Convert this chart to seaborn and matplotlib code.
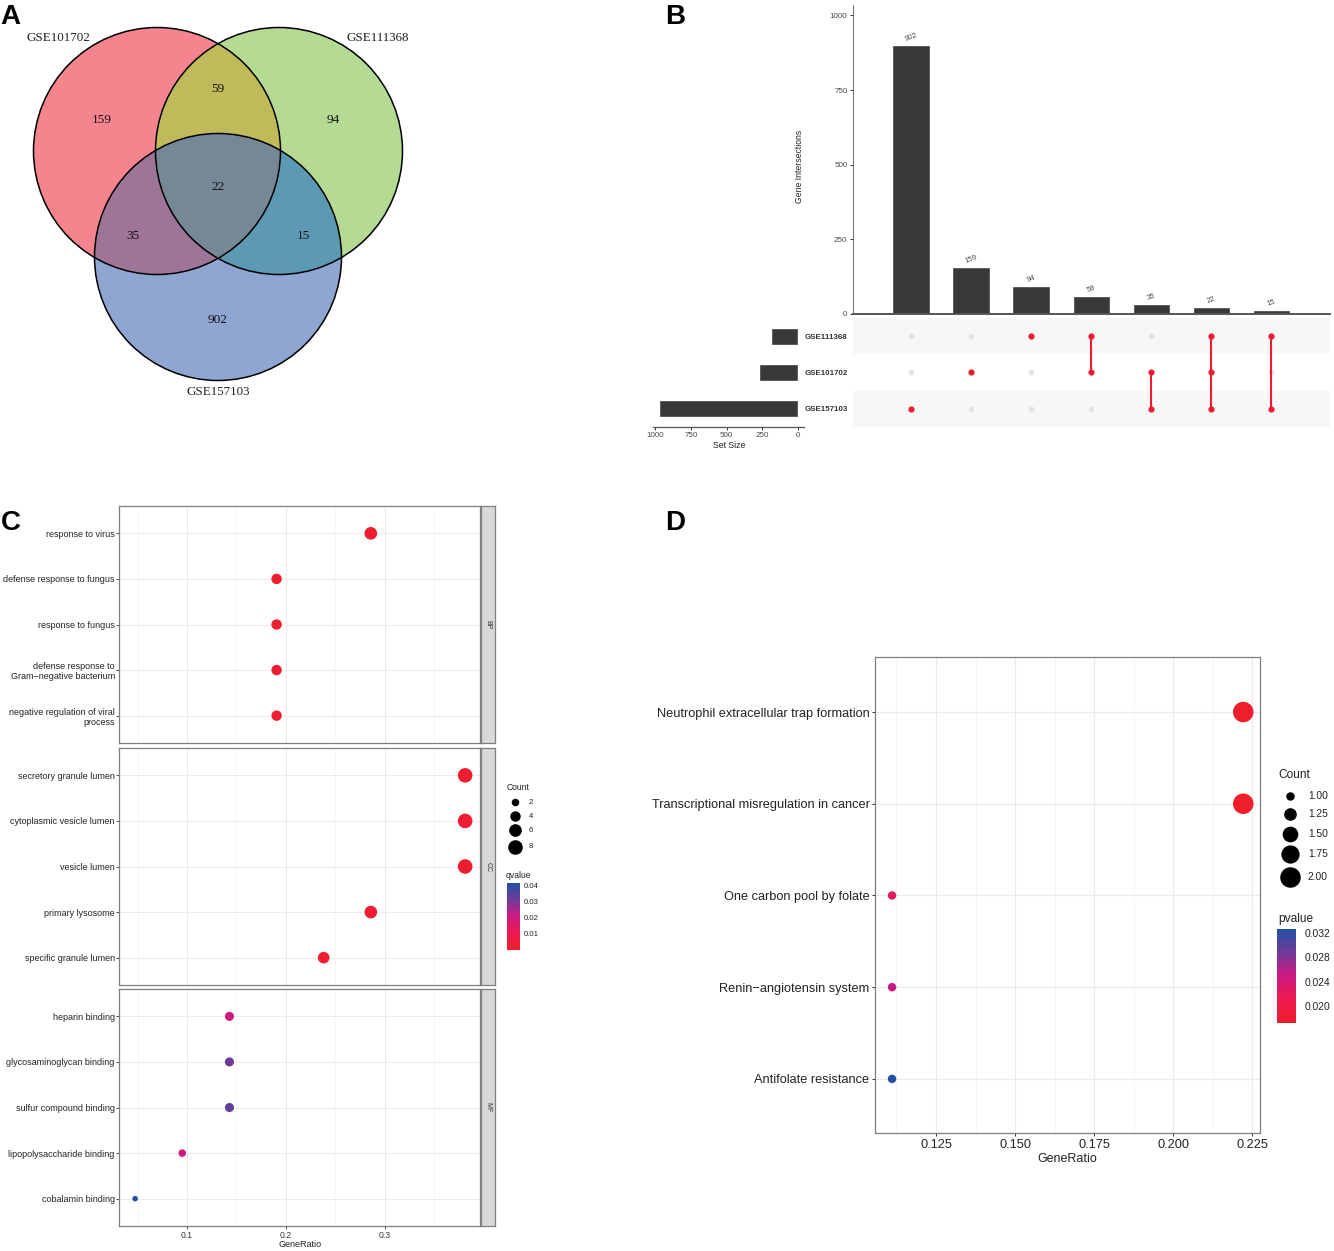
# Four panel figure: venn, upset plot, GO dot plot, KEGG dot plot
import numpy as np
import pandas as pd
import matplotlib
matplotlib.use("Agg")
import matplotlib.pyplot as plt
from matplotlib.cm import ScalarMappable
from matplotlib.colors import LinearSegmentedColormap, Normalize, to_rgb
from matplotlib.patches import Circle
from matplotlib.ticker import FormatStrFormatter
import seaborn as sns

# ---------------- data ----------------
venn_sets = ["GSE101702", "GSE111368", "GSE157103"]
venn_counts = ["159", "94", "59", "902", "35", "15", "22"]

upset_values = [902, 159, 94, 59, 35, 22, 15]
upset_sets = ["GSE111368", "GSE101702", "GSE157103"]
set_sizes = [190, 275, 974]
# which rows (index into upset_sets) each bar belongs to
upset_members = [[2], [1], [0], [0, 1], [1, 2], [0, 1, 2], [0, 2]]

go_bp_terms = ["response to virus", "defense response to fungus", "response to fungus",
               "defense response to\nGram\u2212negative bacterium",
               "negative regulation of viral\nprocess"]
go_bp_ratio = [0.2857, 0.1905, 0.1905, 0.1905, 0.1905]
go_bp_count = [6, 4, 4, 4, 4]
go_bp_q = [0.001, 0.001, 0.001, 0.001, 0.001]

go_cc_terms = ["secretory granule lumen", "cytoplasmic vesicle lumen", "vesicle lumen",
               "primary lysosome", "specific granule lumen"]
go_cc_ratio = [0.3810, 0.3810, 0.3810, 0.2857, 0.2381]
go_cc_count = [8, 8, 8, 6, 5]
go_cc_q = [0.001, 0.001, 0.001, 0.001, 0.001]

go_mf_terms = ["heparin binding", "glycosaminoglycan binding", "sulfur compound binding",
               "lipopolysaccharide binding", "cobalamin binding"]
go_mf_ratio = [0.1429, 0.1429, 0.1429, 0.0952, 0.0476]
go_mf_count = [3, 3, 3, 2, 1]
go_mf_q = [0.0193, 0.0307, 0.0328, 0.0193, 0.041]

kegg_terms = ["Neutrophil extracellular trap formation", "Transcriptional misregulation in cancer",
              "One carbon pool by folate", "Renin\u2212angiotensin system", "Antifolate resistance"]
kegg_ratio = [0.2222, 0.2222, 0.1111, 0.1111, 0.1111]
kegg_count = [2, 2, 1, 1, 1]
kegg_p = [0.0172, 0.0172, 0.0221, 0.0252, 0.0326]

go_count_legend = [2, 4, 6, 8]
kegg_count_legend = [1.00, 1.25, 1.50, 1.75, 2.00]

# ---------------- setup ----------------
W, H = 1334, 1251
sns.set_theme(style="white")
plt.rcParams["font.family"] = ["Liberation Sans", "DejaVu Sans"]

fig = plt.figure(figsize=(W / 100, H / 100), dpi=100, facecolor="white")

low_blue = LinearSegmentedColormap.from_list(
    "red_blue", ["#EE1E2A", "#EC1A50", "#CF1A82", "#703A98", "#2450A4"])
DARK = "#383838"
RED = "#ED1C2E"
BORDER = "#7F7F7F"


def px_axes(x0, y0, x1, y1):
    # axes from pixel corners, y counted from the top of the image
    return fig.add_axes([x0 / W, 1 - y1 / H, (x1 - x0) / W, (y1 - y0) / H])


# overlay in image pixels for the venn and the free text
overlay = fig.add_axes([0, 0, 1, 1], zorder=10)
overlay.patch.set_alpha(0)
overlay.axis("off")

# ---------------- panel A ----------------
centers = [(157, 151), (279, 151), (218, 257)]
radius = 123.5
region_colors = {1: "#F4868F", 2: "#B5DA94", 4: "#8FA6D3", 3: "#C1BB5C",
                 5: "#9F7499", 6: "#5B9AB3", 7: "#778796"}
yy, xx = np.mgrid[0:400:1600j, 0:420:1680j]
code = np.zeros(xx.shape, dtype=int)
for bit, (cx, cy) in enumerate(centers):
    code += ((xx - cx) ** 2 + (yy - cy) ** 2 <= radius ** 2).astype(int) << bit
rgba = np.zeros(xx.shape + (4,))
for key, col in region_colors.items():
    rgba[code == key] = to_rgb(col) + (1,)
overlay.imshow(rgba, extent=(0, 420, 400, 0), aspect="auto", interpolation="antialiased")
for c in centers:
    overlay.add_patch(Circle(c, radius, fill=False, ec="black", lw=1.1))

venn_label_xy = [(58, 38), (378, 38), (218, 392)]
for name, (x, y) in zip(venn_sets, venn_label_xy):
    overlay.text(x, y, name, family="Liberation Serif", fontsize=9.4,
                 color="#222222", ha="center", va="center")
venn_count_xy = [(102, 120), (333, 120), (218, 89), (218, 320), (133, 236), (303, 236), (218, 187)]
for val, (x, y) in zip(venn_counts, venn_count_xy):
    overlay.text(x, y, val, family="Liberation Serif", fontsize=9.6,
                 color="#111111", ha="center", va="center")

# ---------------- panel B ----------------
ax_bar = px_axes(853, 5, 1330, 314)
sns.barplot(x=list(range(7)), y=upset_values, color=DARK, width=0.62, saturation=1, ax=ax_bar)
ax_bar.set_xlim(-0.967, 6.98)
ax_bar.set_ylim(0, 1035)
ax_bar.set_xticks([])
ax_bar.set_yticks([0, 250, 500, 750, 1000])
ax_bar.tick_params(axis="y", left=True, length=2.5, width=0.7, color="#333333",
                   labelsize=5.8, labelcolor="#4D4D4D", pad=1.5)
ax_bar.set_ylabel("")
ax_bar.bar_label(ax_bar.containers[0], rotation=20, fontsize=5.6, color="#4D4D4D", padding=1.5)
sns.despine(ax=ax_bar)
ax_bar.spines["left"].set_color("#555555")
ax_bar.spines["left"].set_linewidth(0.6)
ax_bar.spines["bottom"].set_color("#555555")
ax_bar.spines["bottom"].set_linewidth(1.4)
overlay.text(800, 166, "Gene Intersections", rotation=90, fontsize=6.2,
             color="#222222", ha="center", va="center")

# dot matrix under the bars
ax_mat = px_axes(853, 318, 1330, 427)
ax_mat.axhspan(-0.5, 0.5, color="#F7F7F7", lw=0)
ax_mat.axhspan(1.5, 2.5, color="#F7F7F7", lw=0)
dot_x, dot_y, dot_on = [], [], []
for i, members in enumerate(upset_members):
    for r in range(len(upset_sets)):
        dot_x.append(i)
        dot_y.append(r)
        dot_on.append(r in members)
dots = pd.DataFrame({"x": dot_x, "y": dot_y, "on": dot_on})
sns.scatterplot(data=dots[~dots["on"]], x="x", y="y", color="#E3E3E3", s=16, linewidth=0, ax=ax_mat, zorder=2)
sns.scatterplot(data=dots[dots["on"]], x="x", y="y", color=RED, s=20, linewidth=0, ax=ax_mat, zorder=4)
for i, members in enumerate(upset_members):
    if len(members) > 1:
        ax_mat.plot([i, i], [min(members), max(members)], color=RED, lw=1.5, zorder=3)
ax_mat.set_xlim(-0.967, 6.98)
ax_mat.set_ylim(2.5, -0.5)
ax_mat.set_xticks([])
ax_mat.set_xlabel("")
ax_mat.set_ylabel("")
ax_mat.set_yticks(range(3))
ax_mat.set_yticklabels(upset_sets, fontsize=5.7, fontweight="bold", color="#333333")
ax_mat.tick_params(axis="y", left=False, length=0, pad=4)
sns.despine(ax=ax_mat, left=True, bottom=True)

# set size bars
ax_set = px_axes(653, 318, 804, 427)
ax_set.patch.set_alpha(0)
sns.barplot(x=set_sizes, y=upset_sets, color=DARK, width=0.46, saturation=1, orient="h", ax=ax_set)
ax_set.set_xlim(1016, -42)
ax_set.set_ylim(2.5, -0.5)
ax_set.set_yticks([])
ax_set.set_ylabel("")
ax_set.set_xticks([1000, 750, 500, 250, 0])
ax_set.tick_params(axis="x", bottom=True, length=2.5, width=0.7, color="#333333",
                   labelsize=5.8, labelcolor="#4D4D4D", pad=1)
sns.despine(ax=ax_set, left=True)
ax_set.spines["bottom"].set_color("#555555")
ax_set.spines["bottom"].set_linewidth(0.9)
overlay.text(729, 445.5, "Set Size", fontsize=6.3, color="#222222", ha="center", va="center")

# ---------------- panel C ----------------
go_norm = Normalize(-0.0006, 0.0417)
go_size_range = (16, 110)
go_size_norm = (1, 8)
go_panels = [("BP", go_bp_terms, go_bp_ratio, go_bp_count, go_bp_q, 506, 743),
             ("CC", go_cc_terms, go_cc_ratio, go_cc_count, go_cc_q, 748, 985),
             ("MF", go_mf_terms, go_mf_ratio, go_mf_count, go_mf_q, 989, 1226)]


def style_dot_axes(ax, grid_lw):
    ax.set_axisbelow(True)
    ax.grid(True, which="major", color="#EBEBEB", lw=grid_lw)
    ax.grid(True, which="minor", axis="x", color="#F2F2F2", lw=grid_lw * 0.7)
    for side in ax.spines.values():
        side.set_visible(True)
        side.set_color(BORDER)
        side.set_linewidth(0.9)
    ax.set_xlabel("")
    ax.set_ylabel("")


for name, terms, ratio, count, qval, top, bottom in go_panels:
    ax = px_axes(119, top, 480, bottom)
    df = pd.DataFrame({"term": terms, "ratio": ratio, "count": count, "q": qval})
    sns.scatterplot(data=df, x="ratio", y="term", hue="q", size="count", palette=low_blue,
                    hue_norm=go_norm, sizes=go_size_range, size_norm=go_size_norm,
                    linewidth=0, legend=False, ax=ax, zorder=3)
    ax.set_xlim(0.0313, 0.396)
    ax.set_ylim(4.6, -0.6)
    ax.set_xticks([0.1, 0.2, 0.3])
    ax.set_xticks([0.05, 0.15, 0.25, 0.35], minor=True)
    style_dot_axes(ax, 0.7)
    ax.tick_params(axis="y", left=True, length=2, width=0.6, color="#333333", labelsize=6.5,
                   labelcolor="#222222", pad=1)
    ax.tick_params(axis="x", which="minor", bottom=False)
    for lab in ax.get_yticklabels():
        lab.set_linespacing(1.15)
    if name == "MF":
        ax.set_xticklabels(["0.1", "0.2", "0.3"])
        ax.tick_params(axis="x", bottom=True, length=2, width=0.6, color="#333333",
                       labelsize=6.2, labelcolor="#333333", pad=1.5)
    else:
        ax.tick_params(axis="x", labelbottom=False, bottom=False)

    strip = px_axes(481, top, 495, bottom)
    strip.set_facecolor("#D9D9D9")
    strip.set_xticks([])
    strip.set_yticks([])
    for side in strip.spines.values():
        side.set_visible(True)
        side.set_color(BORDER)
        side.set_linewidth(0.9)
    strip.text(0.5, 0.5, name, rotation=-90, fontsize=5, color="#333333",
               ha="center", va="center", transform=strip.transAxes)

overlay.text(300, 1244.5, "GeneRatio", fontsize=6.5, color="#222222", ha="center", va="center")


def legend_size(c, rng, norm):
    return rng[0] + (c - norm[0]) / (norm[1] - norm[0]) * (rng[1] - rng[0])


def dot_legend(title_xy, title, counts, labels, ys, dot_x, text_x, rng, norm, fs_title, fs_text):
    overlay.text(*title_xy, title, fontsize=fs_title, color="#222222", ha="left", va="center")
    for c, lab, y in zip(counts, labels, ys):
        overlay.scatter([dot_x], [y], s=legend_size(c, rng, norm), color="black", linewidth=0)
        overlay.text(text_x, y, lab, fontsize=fs_text, color="#222222", ha="left", va="center")


def color_bar(box, norm, ticks, fmt, fs, pad, tick_len):
    cax = px_axes(*box)
    cb = fig.colorbar(ScalarMappable(norm=norm, cmap=low_blue), cax=cax)
    cb.outline.set_visible(False)
    cb.set_ticks(ticks)
    cax.yaxis.set_major_formatter(FormatStrFormatter(fmt))
    cax.tick_params(axis="y", direction="in", left=True, right=True, labelleft=False, labelright=True,
                    length=tick_len, width=0.6, color="#F4F4F4", labelsize=fs, labelcolor="#222222", pad=pad)


dot_legend((507, 788), "Count", go_count_legend, ["2", "4", "6", "8"], [802, 816, 830, 847],
           514.5, 529, go_size_range, go_size_norm, 6.2, 5.6)
overlay.text(506, 876, "qvalue", fontsize=6.2, color="#222222", ha="left", va="center")
color_bar((507, 883, 520, 950), go_norm, [0.01, 0.02, 0.03, 0.04], "%.2f", 5.6, 3, 2)

# ---------------- panel D ----------------
kegg_norm = Normalize(0.0172, 0.03266)
kegg_size_range = (37, 218)
kegg_size_norm = (1, 2)
ax_d = px_axes(875, 657, 1260, 1133)
df_kegg = pd.DataFrame({"term": kegg_terms, "ratio": kegg_ratio, "count": kegg_count, "p": kegg_p})
sns.scatterplot(data=df_kegg, x="ratio", y="term", hue="p", size="count", palette=low_blue,
                hue_norm=kegg_norm, sizes=kegg_size_range, size_norm=kegg_size_norm,
                linewidth=0, legend=False, ax=ax_d, zorder=3)
ax_d.set_xlim(0.1057, 0.2275)
ax_d.set_ylim(4.59, -0.6)
ax_d.set_xticks([0.125, 0.150, 0.175, 0.200, 0.225])
ax_d.set_xticklabels(["0.125", "0.150", "0.175", "0.200", "0.225"])
ax_d.set_xticks([0.1125, 0.1375, 0.1625, 0.1875, 0.2125], minor=True)
style_dot_axes(ax_d, 0.8)
ax_d.tick_params(axis="both", which="major", bottom=True, left=True, length=2.5, width=0.7,
                 color="#333333", labelsize=9.2, labelcolor="#222222", pad=1.5)
ax_d.tick_params(axis="x", which="minor", bottom=False)
overlay.text(1067, 1159, "GeneRatio", fontsize=9, color="#222222", ha="center", va="center")

dot_legend((1278, 775), "Count", kegg_count_legend, ["1.00", "1.25", "1.50", "1.75", "2.00"],
           [796, 814, 834, 854, 877], 1290, 1308, kegg_size_range, kegg_size_norm, 8.6, 7.4)
overlay.text(1278, 919, "pvalue", fontsize=8.6, color="#222222", ha="left", va="center")
color_bar((1277, 929, 1296, 1023), kegg_norm, [0.020, 0.024, 0.028, 0.032], "%.3f", 7.4, 6, 3.5)

# ---------------- panel letters ----------------
for letter, x, y in [("A", 0.5, 17), ("B", 665, 17), ("C", 0.5, 522.5), ("D", 665, 522.5)]:
    overlay.text(x, y, letter, fontsize=20, fontweight="bold", color="black", ha="left", va="center")

overlay.set_xlim(0, W)
overlay.set_ylim(H, 0)

fig.savefig("out.png", dpi=100)
